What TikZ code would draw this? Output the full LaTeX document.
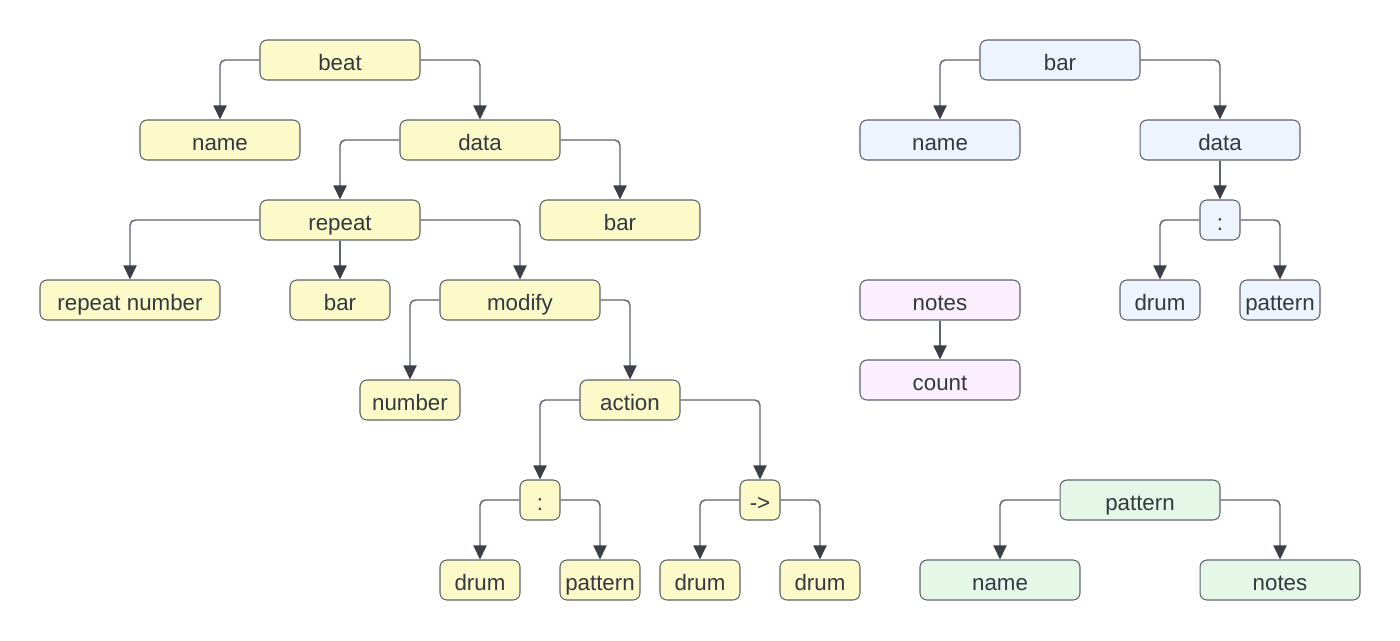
\documentclass[tikz,border=0pt]{standalone}
\usepackage{fontspec}
\setmainfont{Liberation Sans}
\usepackage{xcolor}
\definecolor{edgegray}{RGB}{94, 99, 108}
\definecolor{tipdark}{RGB}{58, 63, 72}
\definecolor{textdark}{RGB}{51, 56, 66}
\definecolor{beatyellow}{RGB}{252, 250, 201}
\definecolor{barblue}{RGB}{237, 244, 254}
\definecolor{notespink}{RGB}{251, 238, 253}
\definecolor{patterngreen}{RGB}{229, 248, 232}
\usepackage{tikz}
\usetikzlibrary{arrows.meta, positioning}

\begin{document}
\begin{tikzpicture}[
    x=0.02cm, y=-0.02cm,
    tbox/.style={rectangle, rounded corners=4pt, draw=edgegray, line width=0.6pt, text=textdark, minimum height=0.8cm, minimum width=3.2cm, inner sep=0pt, text height=13pt, text depth=1pt, align=center, font=\fontsize{12.7}{15}\selectfont},
    ybox/.style={tbox, fill=beatyellow},
    bbox/.style={tbox, fill=barblue},
    pbox/.style={tbox, fill=notespink},
    gbox/.style={tbox, fill=patterngreen},
    arr/.style={-{Triangle[length=8pt, width=7.5pt, color=tipdark]}, draw=edgegray, line width=0.8pt, rounded corners=3pt}
  ]
    \useasboundingbox (0, 0) rectangle (1400, 640);

    % beat tree
    \node[ybox] (beat) at (340, 60) {beat};
    \node[ybox] (bname) at (220, 140) {name};
    \node[ybox] (bdata) at (480, 140) {data};
    \node[ybox] (rep) at (340, 220) {repeat};
    \node[ybox] (dbar) at (620, 220) {bar};
    \node[ybox, minimum width=3.6cm] (repnum) at (130, 300) {repeat number};
    \node[ybox, minimum width=2.0cm] (rbar) at (340, 300) {bar};
    \node[ybox] (mod) at (520, 300) {modify};
    \node[ybox, minimum width=2.0cm] (num) at (410, 400) {number};
    \node[ybox, minimum width=2.0cm] (act) at (630, 400) {action};
    \node[ybox, minimum width=0.8cm] (colon) at (540, 500) {:};
    \node[ybox, minimum width=0.8cm] (arrow) at (760, 500) {->};
    \node[ybox, minimum width=1.6cm] (cdrum) at (480, 580) {drum};
    \node[ybox, minimum width=1.6cm] (cpat) at (600, 580) {pattern};
    \node[ybox, minimum width=1.6cm] (adrum1) at (700, 580) {drum};
    \node[ybox, minimum width=1.6cm] (adrum2) at (820, 580) {drum};

    \draw[arr] (beat.west) -| (bname.north);
    \draw[arr] (beat.east) -| (bdata.north);
    \draw[arr] (bdata.west) -| (rep.north);
    \draw[arr] (bdata.east) -| (dbar.north);
    \draw[arr] (rep.west) -| (repnum.north);
    \draw[arr] (rep.south) -- (rbar.north);
    \draw[arr] (rep.east) -| (mod.north);
    \draw[arr] (mod.west) -| (num.north);
    \draw[arr] (mod.east) -| (act.north);
    \draw[arr] (act.west) -| (colon.north);
    \draw[arr] (act.east) -| (arrow.north);
    \draw[arr] (colon.west) -| (cdrum.north);
    \draw[arr] (colon.east) -| (cpat.north);
    \draw[arr] (arrow.west) -| (adrum1.north);
    \draw[arr] (arrow.east) -| (adrum2.north);

    % bar tree
    \node[bbox] (bar) at (1060, 60) {bar};
    \node[bbox] (barname) at (940, 140) {name};
    \node[bbox] (bardata) at (1220, 140) {data};
    \node[bbox, minimum width=0.8cm] (barcolon) at (1220, 220) {:};
    \node[bbox, minimum width=1.6cm] (bardrum) at (1160, 300) {drum};
    \node[bbox, minimum width=1.6cm] (barpat) at (1280, 300) {pattern};

    \draw[arr] (bar.west) -| (barname.north);
    \draw[arr] (bar.east) -| (bardata.north);
    \draw[arr] (bardata.south) -- (barcolon.north);
    \draw[arr] (barcolon.west) -| (bardrum.north);
    \draw[arr] (barcolon.east) -| (barpat.north);

    % notes
    \node[pbox] (notes) at (940, 300) {notes};
    \node[pbox] (count) at (940, 380) {count};
    \draw[arr] (notes.south) -- (count.north);

    % pattern tree
    \node[gbox] (pat) at (1140, 500) {pattern};
    \node[gbox] (patname) at (1000, 580) {name};
    \node[gbox] (patnotes) at (1280, 580) {notes};
    \draw[arr] (pat.west) -| (patname.north);
    \draw[arr] (pat.east) -| (patnotes.north);
  \end{tikzpicture}
\end{document}
